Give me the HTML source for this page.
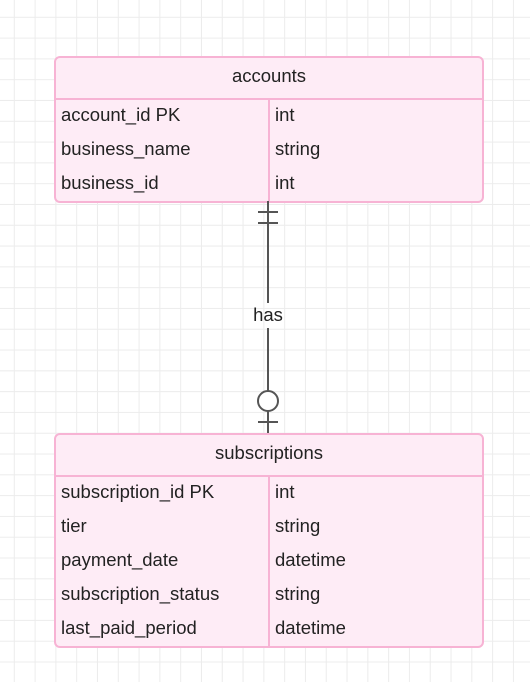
<!DOCTYPE html>
<html><head><style>
body{margin:0;width:530px;height:682px;overflow:hidden;background:#fff;
background-image:linear-gradient(#ececec 1px,transparent 1px),linear-gradient(90deg,#ececec 1px,transparent 1px);
background-size:20.8px 20.8px;background-position:-7px -4px;font-family:"Liberation Sans",sans-serif;}
.t{position:absolute;left:54px;width:426px;border:2px solid #f7b3d4;border-radius:6px;background:#feecf6;box-sizing:content-box}
.h{height:40px;line-height:36px;text-align:center;font-size:18.5px;color:#222;border-bottom:2px solid #f7b3d4}
.r{height:34px;line-height:30px;font-size:18.5px;color:#222;position:relative}
.r span{position:absolute;left:5px}.r span+span{left:219px}
.d{position:absolute;left:212px;top:42px;bottom:0;border-left:2px solid #f7b3d4}
</style></head><body>
<div class="t" style="top:56px;height:143px">
<div class="h">accounts</div><div class="d"></div>
<div class="r"><span>account_id PK</span><span>int</span></div>
<div class="r"><span>business_name</span><span>string</span></div>
<div class="r"><span>business_id</span><span>int</span></div>
</div>
<svg style="position:absolute;left:0;top:0" width="530" height="682">
<g stroke="#555" stroke-width="2" fill="none">
<line x1="268" y1="201" x2="268" y2="303"/>
<line x1="268" y1="328" x2="268" y2="391"/>
<line x1="268" y1="411" x2="268" y2="434"/>
<line x1="258" y1="212" x2="278" y2="212"/>
<line x1="258" y1="223" x2="278" y2="223"/>
<circle cx="268" cy="401" r="10" fill="#fff"/>
<line x1="258" y1="422" x2="278" y2="422"/>
</g>
<text x="268" y="321" text-anchor="middle" font-family="Liberation Sans" font-size="18.5" fill="#222">has</text>
</svg>
<div class="t" style="top:433px;height:211px">
<div class="h">subscriptions</div><div class="d"></div>
<div class="r"><span>subscription_id PK</span><span>int</span></div>
<div class="r"><span>tier</span><span>string</span></div>
<div class="r"><span>payment_date</span><span>datetime</span></div>
<div class="r"><span>subscription_status</span><span>string</span></div>
<div class="r"><span>last_paid_period</span><span>datetime</span></div>
</div>
</body></html>
